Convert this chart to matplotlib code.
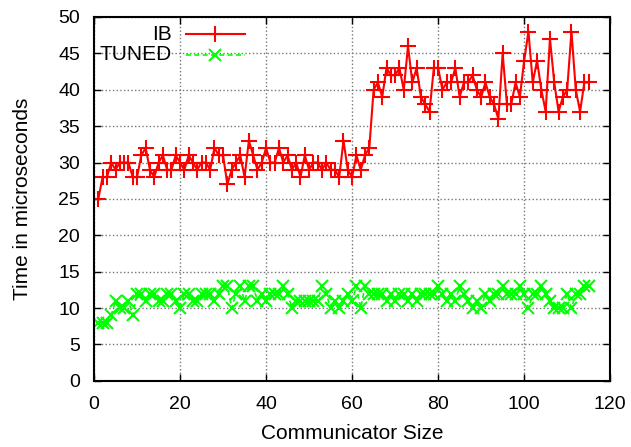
import matplotlib
matplotlib.use("Agg")
import matplotlib.pyplot as plt
import numpy as np

plt.rcParams['font.family'] = ['Liberation Sans', 'DejaVu Sans']

# communicator sizes 1..115
sizes = list(range(1, 116))

ib = [25, 28, 28, 30, 29, 30, 30, 30, 28, 28, 31, 32, 29, 28, 30, 31, 29, 29, 31, 30,
      29, 31, 30, 29, 30, 30, 29, 32, 31, 31, 27, 29, 30, 31, 28, 33, 31, 29, 30, 32,
      30, 30, 32, 30, 31, 29, 30, 28, 31, 29, 30, 30, 29, 30, 29, 29, 28, 33, 29, 28,
      31, 29, 31, 32, 40, 41, 39, 43, 42, 42, 43, 40, 46, 41, 43, 39, 38, 37, 43, 43,
      40, 41, 41, 43, 39, 41, 41, 42, 40, 39, 41, 39, 38, 36, 45, 38, 38, 41, 39, 44,
      48, 41, 44, 40, 37, 47, 41, 37, 39, 40, 48, 40, 37, 41, 41]

tuned = [8, 8, 8, 9, 11, 10, 10, 11, 9, 12, 12, 11, 12, 12, 11, 11, 12, 12, 11, 10,
         12, 12, 11, 11, 12, 12, 12, 11, 12, 13, 13, 10, 12, 13, 11, 13, 13, 11, 12, 11,
         12, 12, 12, 13, 12, 10, 11, 11, 11, 11, 11, 11, 13, 12, 10, 11, 10, 11, 12, 11,
         13, 10, 13, 12, 12, 12, 12, 11, 12, 11, 12, 12, 11, 12, 11, 12, 12, 12, 12, 13,
         12, 11, 12, 11, 13, 12, 11, 10, 11, 10, 12, 11, 12, 12, 13, 12, 12, 12, 13, 12,
         10, 12, 12, 13, 12, 11, 10, 10, 10, 12, 10, 12, 12, 13, 13]

fig = plt.figure(figsize=(6.31, 4.47), dpi=100)
ax = fig.add_axes([0.149, 0.148, 0.818, 0.814])

ax.plot(sizes, ib, color='#ff0000', lw=1.5, marker='+', ms=11, mew=1.5)
ax.plot(sizes, tuned, color='#00ff00', lw=1.2, ls=(0, (3, 2)), marker='x', ms=9, mew=1.5)

ax.set_xlim(0, 120)
ax.set_ylim(0, 50)
ax.set_xticks(range(0, 121, 20))
ax.set_yticks(range(0, 51, 5))
ax.tick_params(direction='in', top=True, right=True, labelsize=14, length=5, width=1)
ax.tick_params(axis='y', pad=10)
ax.tick_params(axis='x', pad=11)
ax.grid(True, color='#777777', ls=':', lw=1)
for s in ax.spines.values():
    s.set_linewidth(1.5)

ax.set_xlabel('Communicator Size', fontsize=15, labelpad=8)
ax.set_ylabel('Time in microseconds', fontsize=15, labelpad=19)

# gnuplot-style key: right-aligned labels, sample to the right
tr = ax.transAxes
ax.text(0.151, 0.953, 'IB', transform=tr, ha='right', va='center', fontsize=15)
ax.plot([0.178, 0.293], [0.953, 0.953], transform=tr, color='#ff0000', lw=1.5)
ax.plot([0.235], [0.953], transform=tr, color='#ff0000', marker='+', ms=11, mew=1.5)
ax.text(0.151, 0.896, 'TUNED', transform=tr, ha='right', va='center', fontsize=15)
ax.plot([0.178, 0.293], [0.896, 0.896], transform=tr, color='#00ff00', lw=1.2, ls=(0, (3, 2)))
ax.plot([0.235], [0.896], transform=tr, color='#00ff00', marker='x', ms=9, mew=1.5)

fig.savefig('out.png', dpi=100)
